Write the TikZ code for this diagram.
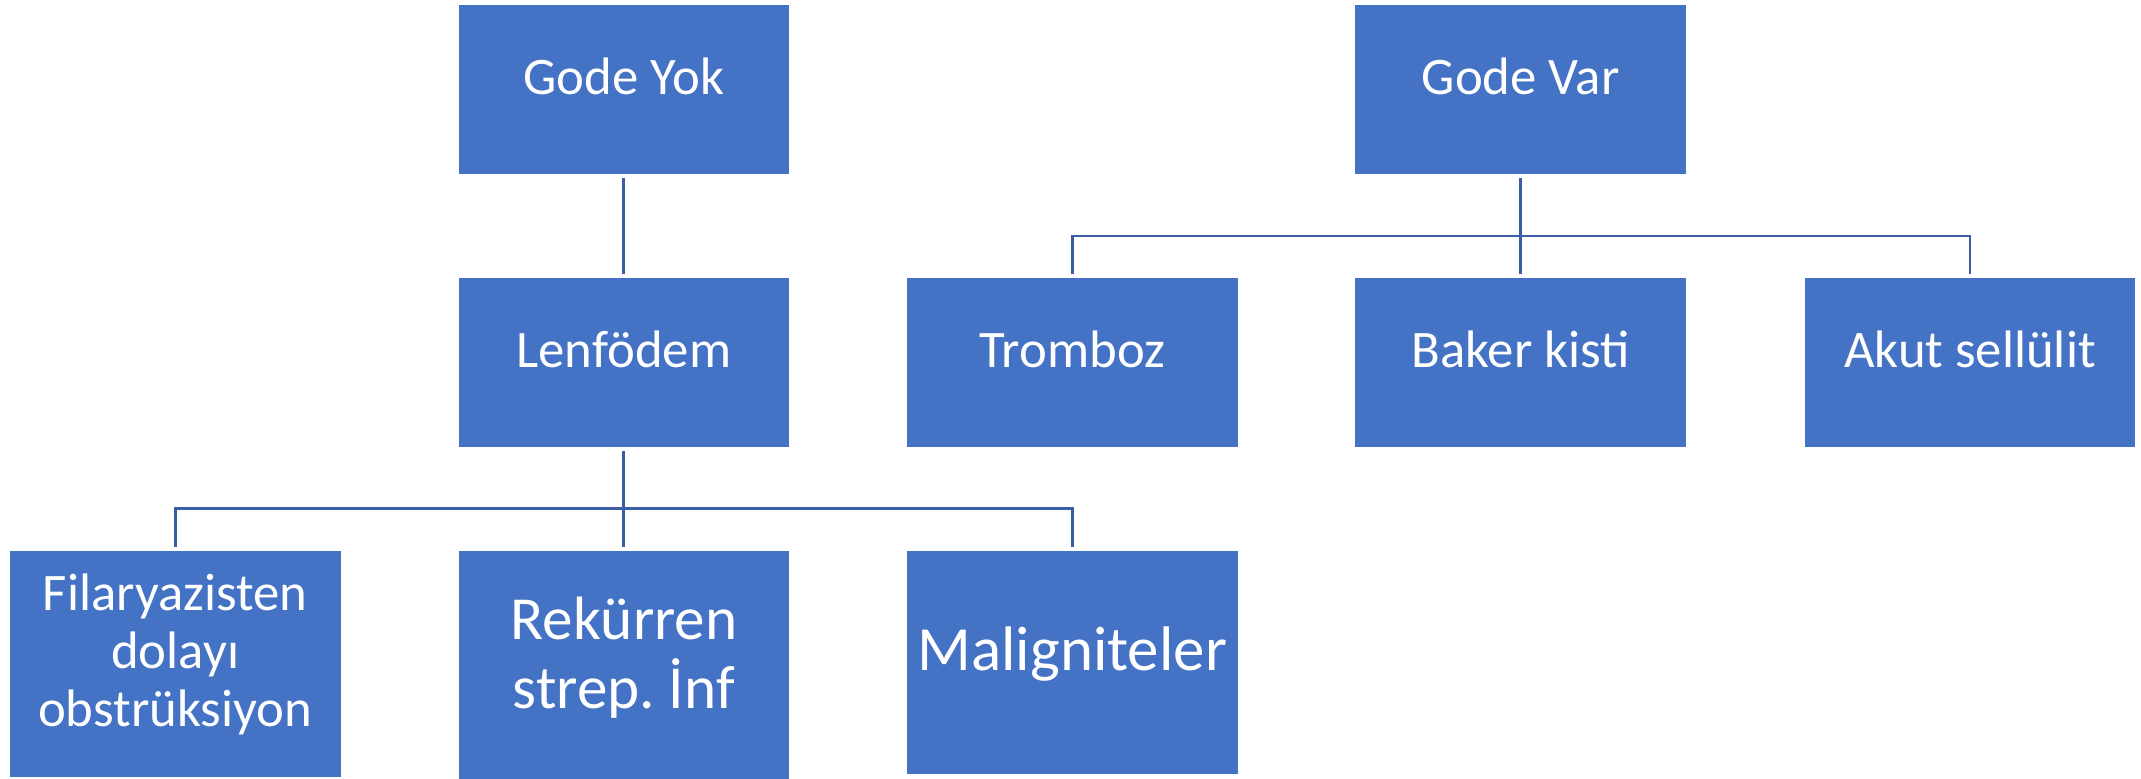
\documentclass[tikz,border=0pt]{standalone}
\usepackage{fontspec}
\setmainfont{Carlito}
\usepackage{tikz}
\frenchspacing
\definecolor{boxblue}{HTML}{4472C4}
\definecolor{lineblue}{HTML}{3A5DA6}
\tikzstyle{cell} = [rectangle, minimum width=3.315cm, minimum height=1.7cm, inner sep=0pt, fill=boxblue, draw=white, line width=0.3pt, text=white, align=center]
\tikzstyle{headcell} = [cell, font=\fontsize{15pt}{16.4pt}\selectfont, text height=12pt, text depth=9.3pt]
\tikzstyle{filcell} = [cell, minimum height=2.26cm, font=\fontsize{15pt}{16.4pt}\selectfont, text height=40pt, text depth=4.7pt]
\tikzstyle{rekcell} = [cell, minimum height=2.28cm, font=\fontsize{17.4pt}{19.6pt}\selectfont, text height=30pt, text depth=5.4pt]
\tikzstyle{malcell} = [cell, minimum height=2.23cm, font=\fontsize{17.9pt}{20pt}\selectfont, text height=14pt, text depth=9.7pt]
\tikzstyle{link} = [draw=lineblue, line width=0.8pt, shorten <=0.03cm, shorten >=0.03cm]

\begin{document}
\begin{tikzpicture}[x=0.01cm, y=-0.01cm]
\useasboundingbox (0,0) rectangle (2141,779);

% Row 1, the two roots
\node[headcell] (n12) at (623.9, 89.5) {Gode Yok};
\node[headcell] (n14) at (1520.7, 89.5) {Gode Var};
% Row 2
\node[headcell] (n22) at (623.9, 362.7) {Lenfödem};
\node[headcell] (n23) at (1072.3, 362.7) {Tromboz};
\node[headcell] (n24) at (1520.7, 362.7) {Baker kisti};
\node[headcell] (n25) at (1970, 362.7) {Akut sellülit};
% Row 3, under Lenfödem
\node[filcell] (n31) at (175.2, 664) {Filaryazisten\\dolayı\\obstrüksiyon};
\node[rekcell] (n32) at (623.9, 665) {Rekürren\\strep. İnf};
\node[malcell] (n33) at (1072.3, 662.5) {Maligniteler};

% bars
\coordinate (b1) at (0, 508.7);
\coordinate (b2) at (0, 236);

% Gode Yok side
\draw[link] (n12) -- (n22);
\draw[link] (n22) -- (n32);
\draw[link] (n31.north) -- (n31.north |- b1) -- (n33.north |- b1) -- (n33.north);
% Gode Var side
\draw[link] (n14) -- (n24);
\draw[link] (n23.north) -- (n23.north |- b2) -- (n25.north |- b2) -- (n25.north);
\end{tikzpicture}
\end{document}
